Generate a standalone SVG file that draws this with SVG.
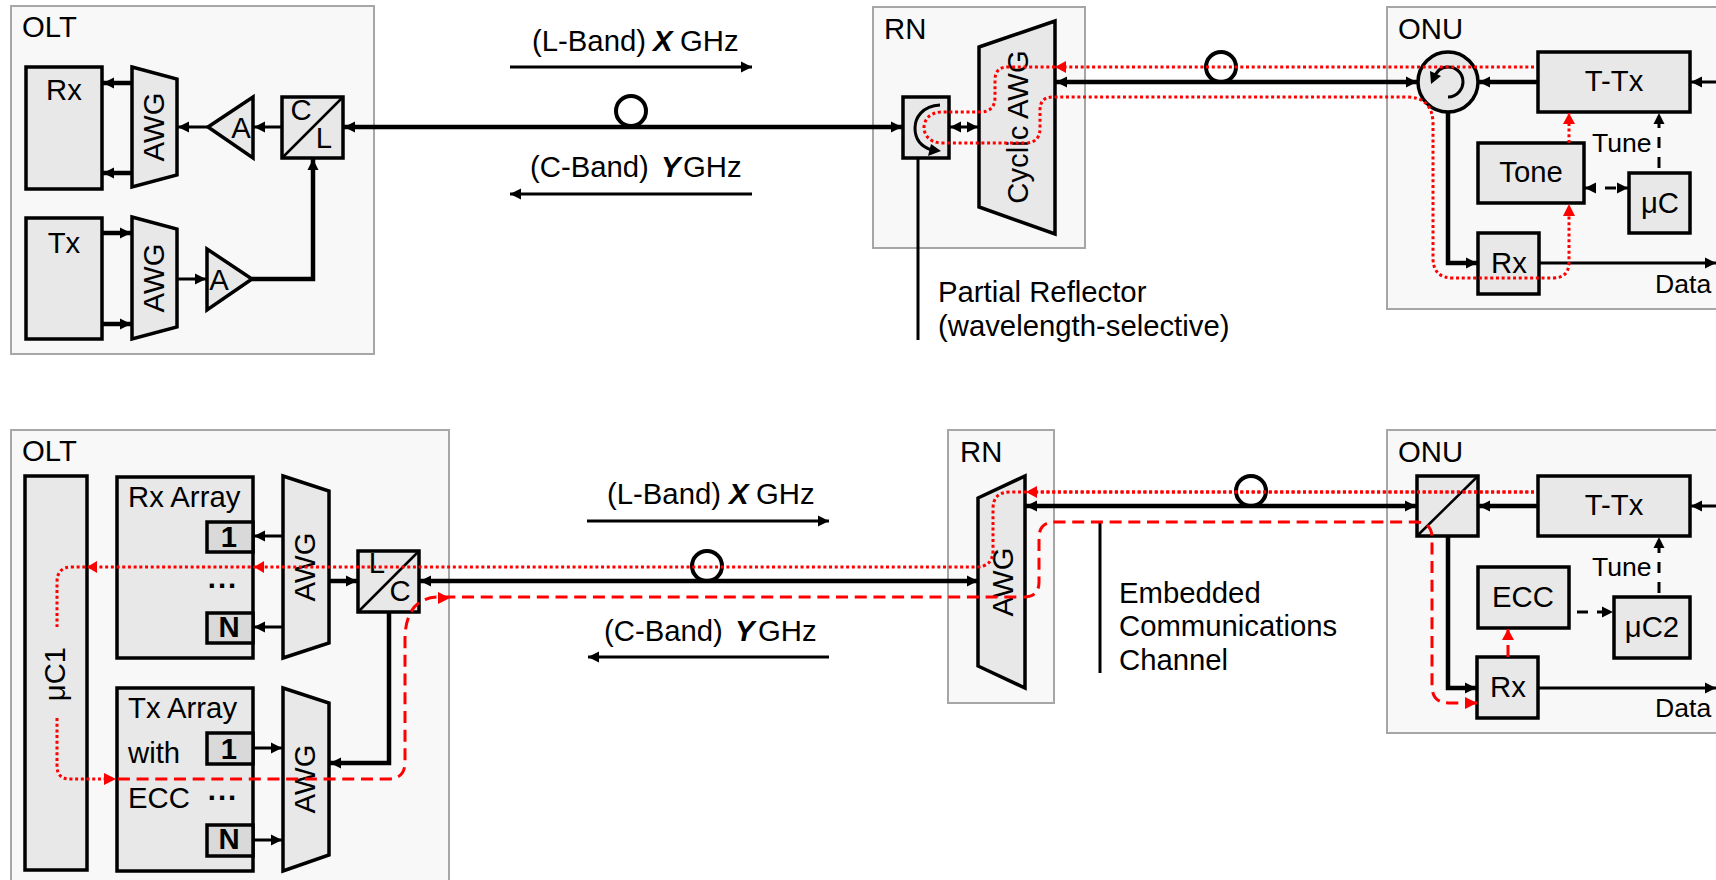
<svg xmlns="http://www.w3.org/2000/svg" width="1716" height="880" viewBox="0 0 1716 880">
<style>
text{font-family:"Liberation Sans",Arial,sans-serif;font-size:29.3px;fill:#000}
.sm{font-size:26.6px}
.b{font-weight:bold}
.bi{font-weight:bold;font-style:italic}
.m{text-anchor:middle}
.dots{letter-spacing:2px}
.frame{fill:#f8f8f8;stroke:#a6a6a6;stroke-width:2}
.n{fill:#e8e8e8;stroke:#000;stroke-width:3.5}
.s{fill:#d9d9d9;stroke:#000;stroke-width:3.5}
.t{fill:none;stroke:#000;stroke-width:2.5}
.k{fill:none;stroke:#000;stroke-width:3}
.k4{fill:none;stroke:#000;stroke-width:4.5}
.d{fill:none;stroke:#000;stroke-width:3;stroke-dasharray:11 9}
.r{fill:none;stroke:#f00;stroke-width:3;stroke-dasharray:3 2.7}
.rd{fill:none;stroke:#f00;stroke-width:3;stroke-dasharray:12 6.7}
.c{fill:none;stroke:#000;stroke-width:4}
</style>
<defs>
<marker id="a" markerUnits="userSpaceOnUse" markerWidth="12" markerHeight="12" refX="11" refY="6" orient="auto-start-reverse"><path d="M0 0.5L11 6L0 11.5Z" fill="#000"/></marker>
<marker id="ra" markerUnits="userSpaceOnUse" markerWidth="12" markerHeight="12" refX="11" refY="6" orient="auto"><path d="M0 0L11 6L0 12Z" fill="#f00"/></marker>
</defs>

<g id="frames">
<rect id="olt1" class="frame" x="11" y="6" width="363" height="348"/>
<rect id="rn1" class="frame" x="873" y="7" width="212" height="241"/>
<rect id="onu1" class="frame" x="1387" y="7" width="340" height="302"/>
<rect id="olt2" class="frame" x="11" y="430" width="438" height="470"/>
<rect id="rn2" class="frame" x="948" y="430" width="106" height="273"/>
<rect id="onu2" class="frame" x="1387" y="430" width="340" height="303"/>
</g>

<g id="top-olt-nodes">
<text x="22" y="37">OLT</text>
<g id="t-rx"><rect class="n" x="26" y="67" width="76" height="122"/><text class="m" x="64" y="100">Rx</text></g>
<g id="t-tx"><rect class="n" x="26" y="218" width="76" height="121"/><text class="m" x="64" y="253">Tx</text></g>
<g id="t-awg1"><path class="n" d="M132 67L177 79V175L132 187Z"/><text class="m" transform="translate(164 127) rotate(-90)">AWG</text></g>
<g id="t-awg2"><path class="n" d="M132 217L177 229V327L132 339Z"/><text class="m" transform="translate(164 278) rotate(-90)">AWG</text></g>
<g id="t-amp1"><path class="n" d="M208 127L253 97V158Z"/><text class="m" x="241" y="138">A</text></g>
<g id="t-amp2"><path class="n" d="M207 249V310L252 279Z"/><text class="m" x="219" y="290">A</text></g>
<g id="t-cl"><rect class="n" x="282" y="97" width="61" height="61"/><path class="t" d="M282 158L343 97"/><text class="m" x="301" y="120">C</text><text class="m" x="324" y="148">L</text></g>
</g>

<g id="top-rn-nodes">
<text x="884" y="39">RN</text>
<g id="t-refl"><rect class="n" x="903" y="97" width="46" height="61"/><path class="k" d="M940 105C922 106 915 118 915 128C915 140 922 147 932 150"/><path d="M941 151L928 156L931 144Z"/></g>
<g id="t-cawg"><path class="n" d="M979 47L1055 21V234L979 207Z"/><text class="m" transform="translate(1028 127) rotate(-90)">Cyclic AWG</text></g>
<text x="938" y="302">Partial Reflector</text>
<text x="938" y="336">(wavelength-selective)</text>
</g>

<g id="top-onu-nodes">
<text x="1398" y="39">ONU</text>
<g id="t-circ"><circle class="n" cx="1448" cy="82" r="30"/><path class="k" d="M1448 97C1458 97 1463 88 1463 82C1463 72 1455 67 1448 67C1441 67 1436 71 1434 79"/><path d="M1431 84L1430 71L1441 76Z"/></g>
<g id="t-ttx"><rect class="n" x="1538" y="52" width="152" height="60"/><text class="m" x="1614" y="91">T-Tx</text></g>
<g id="t-tone"><rect class="n" x="1478" y="143" width="106" height="60"/><text class="m" x="1531" y="182">Tone</text></g>
<g id="t-uc"><rect class="n" x="1629" y="173" width="61" height="60"/><text class="m" x="1660" y="213">μC</text></g>
<g id="t-orx"><rect class="n" x="1478" y="233" width="61" height="61"/><text class="m" x="1509" y="273">Rx</text></g>
<text class="sm" x="1592" y="152">Tune</text>
<text class="sm" x="1655" y="293">Data</text>
</g>

<g id="bottom-olt-nodes">
<text x="22" y="461">OLT</text>
<g id="b-uc1"><rect class="n" x="25" y="476" width="62" height="394"/><text class="m" transform="translate(65 674) rotate(-90)">μC1</text></g>
<g id="b-rx"><rect class="n" x="117" y="477" width="136" height="181"/><text x="128" y="507">Rx Array</text><rect class="s" x="207" y="522" width="46" height="30"/><text class="m b" x="229" y="547">1</text><rect class="s" x="207" y="613" width="46" height="30"/><text class="m b" x="229" y="637">N</text><text class="m b dots" x="223" y="588">...</text></g>
<g id="b-tx"><rect class="n" x="117" y="688" width="136" height="183"/><text x="128" y="718">Tx Array</text><text x="128" y="763">with</text><text x="128" y="808">ECC</text><rect class="s" x="207" y="733" width="46" height="31"/><text class="m b" x="229" y="759">1</text><rect class="s" x="207" y="825" width="46" height="31"/><text class="m b" x="229" y="849">N</text><text class="m b dots" x="223" y="800">...</text></g>
<g id="b-awg1"><path class="n" d="M283 476L329 491V643L283 658Z"/><text class="m" transform="translate(315 567) rotate(-90)">AWG</text></g>
<g id="b-awg2"><path class="n" d="M283 688L329 703V855L283 871Z"/><text class="m" transform="translate(315 779) rotate(-90)">AWG</text></g>
<g id="b-lc"><rect class="n" x="358" y="551" width="61" height="61"/><path class="t" d="M358 612L419 551"/><text class="m" x="377" y="573">L</text><text class="m" x="400" y="601">C</text></g>
</g>

<g id="bottom-rn-nodes">
<text x="960" y="462">RN</text>
<g id="b-rawg"><path class="n" d="M978 498L1025 476V688L978 666Z"/><text class="m" transform="translate(1013 582) rotate(-90)">AWG</text></g>
<text x="1119" y="603">Embedded</text>
<text x="1119" y="636">Communications</text>
<text x="1119" y="670">Channel</text>
</g>

<g id="bottom-onu-nodes">
<text x="1398" y="462">ONU</text>
<g id="b-split"><rect class="n" x="1417" y="476" width="61" height="60"/><path class="t" d="M1417 536L1478 476"/></g>
<g id="b-ttx"><rect class="n" x="1538" y="476" width="152" height="60"/><text class="m" x="1614" y="515">T-Tx</text></g>
<g id="b-ecc"><rect class="n" x="1478" y="567" width="91" height="61"/><text class="m" x="1523" y="607">ECC</text></g>
<g id="b-uc2"><rect class="n" x="1614" y="597" width="76" height="61"/><text class="m" x="1652" y="637">μC2</text></g>
<g id="b-orx"><rect class="n" x="1477" y="657" width="61" height="61"/><text class="m" x="1508" y="697">Rx</text></g>
<text class="sm" x="1592" y="576">Tune</text>
<text class="sm" x="1655" y="717">Data</text>
</g>

<g id="labels">
<text x="532" y="51">(L-Band) <tspan class="bi" x="653">X</tspan><tspan x="680">GHz</tspan></text>
<text x="530" y="177">(C-Band) <tspan class="bi" x="661">Y</tspan><tspan x="683">GHz</tspan></text>
<text x="607" y="504">(L-Band) <tspan class="bi" x="729">X</tspan><tspan x="756">GHz</tspan></text>
<text x="604" y="641">(C-Band) <tspan class="bi" x="735">Y</tspan><tspan x="758">GHz</tspan></text>
</g>

<g id="connectors">
<path class="k" marker-end="url(#a)" d="M510 67H752"/>
<path class="k" marker-end="url(#a)" d="M752 194H510"/>
<path class="k" marker-end="url(#a)" d="M587 521H829"/>
<path class="k" marker-end="url(#a)" d="M829 657H588"/>
<circle class="c" cx="631" cy="111" r="15"/>
<circle class="c" cx="1221" cy="67" r="15"/>
<circle class="c" cx="707" cy="566" r="15"/>
<circle class="c" cx="1251" cy="491" r="15"/>

<path class="k4" marker-start="url(#a)" marker-end="url(#a)" d="M344 127H902"/>
<path class="k4" marker-start="url(#a)" marker-end="url(#a)" d="M1056 82H1417"/>
<path class="k4" marker-start="url(#a)" marker-end="url(#a)" d="M420 581H978"/>
<path class="k4" marker-start="url(#a)" marker-end="url(#a)" d="M1026 506H1416"/>

<path class="k4" marker-end="url(#a)" d="M132 83H103"/>
<path class="k4" marker-end="url(#a)" d="M132 173H103"/>
<path class="k4" marker-end="url(#a)" d="M102 233H131"/>
<path class="k4" marker-end="url(#a)" d="M102 324H131"/>
<path class="k" marker-end="url(#a)" d="M208 127H178"/>
<path class="k" marker-end="url(#a)" d="M282 127H254"/>
<path class="k" marker-end="url(#a)" d="M177 279H206"/>
<path class="k4" marker-end="url(#a)" d="M252 279H313V159"/>

<path class="k" d="M918 158V340"/>
<path class="k" marker-start="url(#a)" marker-end="url(#a)" d="M950 127H978"/>
<path class="k" d="M1100 522V673"/>

<path class="k4" marker-end="url(#a)" d="M1538 82H1479"/>
<path class="k4" marker-end="url(#a)" d="M1448 112V263H1477"/>
<path class="k" marker-end="url(#a)" d="M1539 263H1716"/>
<path class="k" marker-end="url(#a)" d="M1716 82H1691"/>
<path class="d" marker-end="url(#a)" d="M1659 168V113"/>
<path class="d" marker-start="url(#a)" marker-end="url(#a)" d="M1585 188H1628"/>

<path class="k" marker-end="url(#a)" d="M283 536H254"/>
<path class="k" marker-end="url(#a)" d="M283 627H254"/>
<path class="k" marker-end="url(#a)" d="M253 748H282"/>
<path class="k" marker-end="url(#a)" d="M253 840H282"/>
<path class="k4" marker-end="url(#a)" d="M329 581H357"/>
<path class="k4" marker-end="url(#a)" d="M389 612V763H330"/>

<path class="k4" marker-end="url(#a)" d="M1538 506H1479"/>
<path class="k4" marker-end="url(#a)" d="M1448 536V688H1476"/>
<path class="k" marker-end="url(#a)" d="M1538 688H1716"/>
<path class="k" marker-end="url(#a)" d="M1716 506H1691"/>
<path class="d" marker-end="url(#a)" d="M1659 593V537"/>
<path class="d" marker-end="url(#a)" d="M1577 612H1613"/>

<path class="r" marker-end="url(#ra)" d="M1534 67H1055"/>
<path class="r" d="M1055 67H1008Q995 67 995 80V97Q995 112 980 112H942C918 112 918 143 942 143H1025Q1040 143 1040 128V110Q1040 97 1053 97H1406Q1433 97 1433 124V258Q1433 278 1453 278H1553Q1569 278 1569 262V216"/>
<path d="M1569 204L1563 216H1575Z" fill="#f00"/>
<path class="r" marker-end="url(#ra)" d="M1569 143V113"/>

<path class="r" d="M1534 492H1010Q993 492 993 509V550Q993 567 976 567H72Q57 567 57 582V627"/>
<path class="r" marker-end="url(#ra)" d="M1534 492H1026"/>
<path d="M87 567L97 561V573Z" fill="#f00"/>
<path d="M254 567L264 561V573Z" fill="#f00"/>
<path class="r" d="M57 718V766Q57 779 70 779H105"/>
<path d="M116 779L104 773V785Z" fill="#f00"/>
<path class="rd" d="M1477 703H1449Q1432 703 1432 686V538Q1432 522 1416 522H1055Q1039 522 1039 538V582Q1039 597 1024 597H440Q405 597 405 640V762Q405 779 388 779H116"/>
<path d="M450 598L438 592V604Z" fill="#f00"/>
<path d="M1477 703L1465 697V709Z" fill="#f00"/>
<path class="rd" marker-end="url(#ra)" d="M1508 657V629"/>
</g>
</svg>
